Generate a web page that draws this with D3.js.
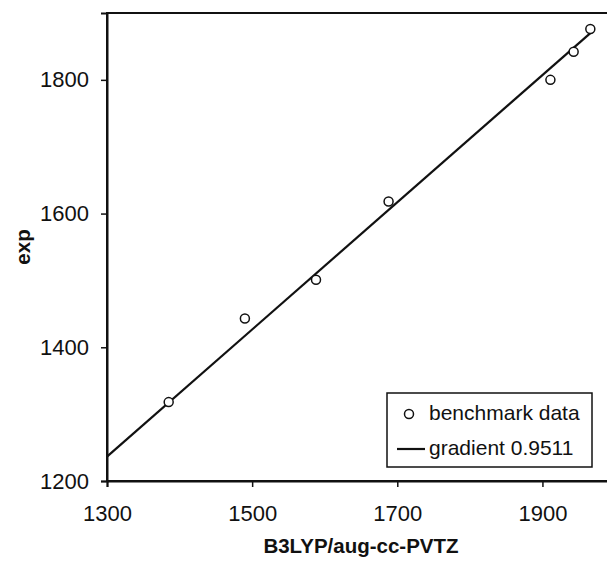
<!DOCTYPE html>
<html>
<head>
<meta charset="utf-8">
<script src="https://cdn.jsdelivr.net/npm/d3@7"></script>
<style>
  body { margin: 0; background: #fff; }
  text { font-family: Arial, "Liberation Sans", sans-serif; fill: #111; }
</style>
</head>
<body>
<div id="chart"></div>
<script>
const width = 607;
const height = 561;

// data
const calcX = [1385, 1490, 1588, 1688, 1911, 1943, 1966];
const expY = [1318, 1443, 1501, 1618, 1800, 1842, 1876];
const gradient = 0.9511;
const fitRange = [1300, 1968];
const xTicks = [1300, 1500, 1700, 1900];
const yTicks = [1200, 1400, 1600, 1800];

const margin = { top: 13, left: 107, bottom: 80, right: -8 };

const x = d3.scaleLinear().domain([1300, 2000]).range([margin.left, width - margin.right]);
const y = d3.scaleLinear().domain([1200, 1900]).range([height - margin.bottom, margin.top]);

const svg = d3.select("#chart").append("svg").attr("width", width).attr("height", height);

//frame (right edge falls outside the picture)
svg.append("rect")
    .attr("x", x(1300)).attr("y", y(1900))
    .attr("width", x(2000) - x(1300)).attr("height", y(1200) - y(1900))
    .attr("fill", "none").attr("stroke", "#111").attr("stroke-width", 2);

//axes
const xAxis = svg.append("g")
    .attr("transform", `translate(0,${y(1200)})`)
    .call(d3.axisBottom(x).tickValues(xTicks).tickSize(6).tickPadding(13).tickFormat(d3.format("d")));
const yAxis = svg.append("g")
    .attr("transform", `translate(${x(1300)},0)`)
    .call(d3.axisLeft(y).tickValues(yTicks).tickSize(6).tickPadding(12).tickFormat(d3.format("d")));

[xAxis, yAxis].forEach(a => {
    a.select(".domain").attr("stroke", "#111").attr("stroke-width", 2);
    a.selectAll(".tick line").attr("stroke", "#111").attr("stroke-width", 1.5);
    a.selectAll(".tick text").style("font-size", "22px").attr("fill", "#111");
});
xAxis.selectAll(".tick text").attr("dy", "0.95em");

//fit line
svg.append("line")
    .attr("x1", x(fitRange[0])).attr("y1", y(gradient * fitRange[0]))
    .attr("x2", x(fitRange[1])).attr("y2", y(gradient * fitRange[1]))
    .attr("stroke", "#111").attr("stroke-width", 2.2);

//points
svg.selectAll("circle.pt")
    .data(calcX.map((d, i) => [d, expY[i]]))
    .join("circle")
    .attr("class", "pt")
    .attr("cx", d => x(d[0]))
    .attr("cy", d => y(d[1]))
    .attr("r", 4.5)
    .attr("fill", "#fff")
    .attr("stroke", "#111")
    .attr("stroke-width", 1.5);

//axis titles
svg.append("text")
    .attr("x", (x(1300) + x(2000)) / 2)
    .attr("y", 553)
    .attr("text-anchor", "middle")
    .style("font-size", "20.5px").style("font-weight", "bold")
    .text("B3LYP/aug-cc-PVTZ");

svg.append("text")
    .attr("transform", `translate(30,${(y(1200) + y(1900)) / 2}) rotate(-90)`)
    .attr("text-anchor", "middle")
    .style("font-size", "20.5px").style("font-weight", "bold")
    .text("exp");

//legend
const lg = svg.append("g").attr("transform", "translate(387,393)");
lg.append("rect").attr("width", 205).attr("height", 74)
    .attr("fill", "#fff").attr("stroke", "#111").attr("stroke-width", 1.5);
lg.append("circle").attr("cx", 22).attr("cy", 21).attr("r", 4.5)
    .attr("fill", "#fff").attr("stroke", "#111").attr("stroke-width", 1.5);
lg.append("text").attr("x", 42).attr("y", 27).style("font-size", "21px").text("benchmark data");
lg.append("line").attr("x1", 10).attr("x2", 38).attr("y1", 56).attr("y2", 56)
    .attr("stroke", "#111").attr("stroke-width", 2.2);
lg.append("text").attr("x", 42).attr("y", 62).style("font-size", "21px").text("gradient 0.9511");
</script>
</body>
</html>
